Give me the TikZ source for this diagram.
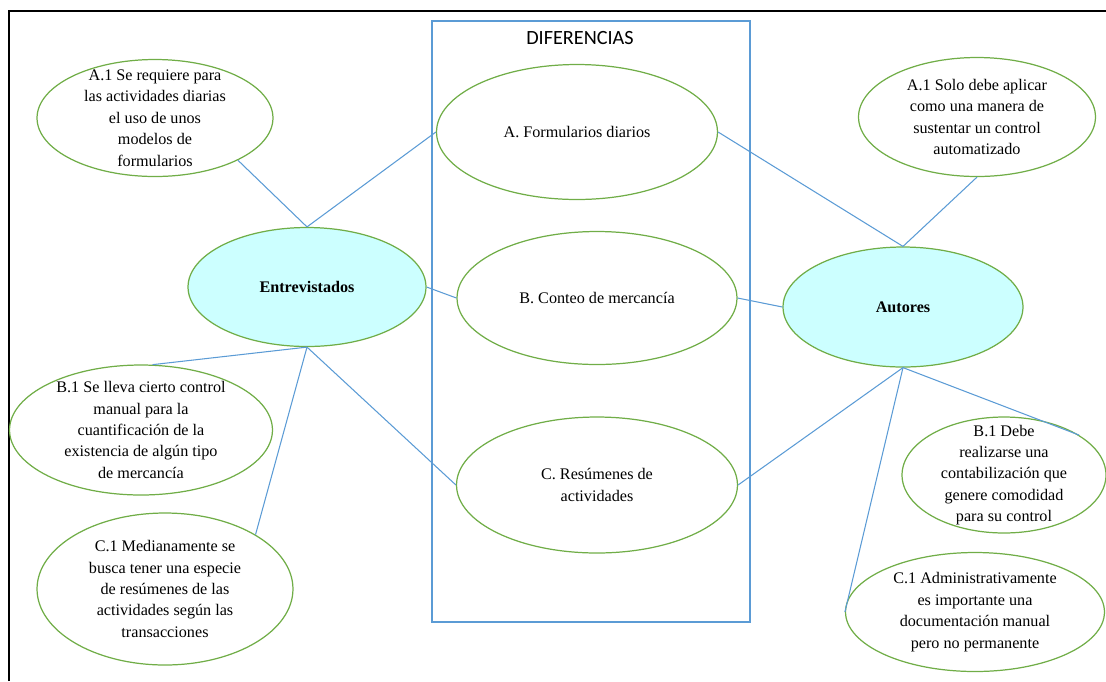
\documentclass[tikz,border=0pt]{standalone}
\usepackage{fontspec}
\setmainfont{Liberation Serif}
\newfontfamily\calibri{Carlito}
\usetikzlibrary{shapes.geometric}
\definecolor{ovalgreen}{RGB}{112,173,71}
\definecolor{linkblue}{RGB}{91,155,213}
\definecolor{actorcyan}{RGB}{204,255,255}

\begin{document}
\begin{tikzpicture}[
x=0.02cm, y=-0.02cm,
oval/.style={
	ellipse, draw=ovalgreen,
	line width=0.7pt, inner sep=0pt,
	font=\fontsize{9.2}{12.2}\selectfont
},
actor/.style={oval, fill=actorcyan, font=\fontsize{9.2}{12.2}\selectfont\bfseries},
txt/.style={align=center, inner sep=0pt, font=\fontsize{9.2}{12.2}\selectfont},
link/.style={draw=linkblue, line width=0.6pt}
]
\useasboundingbox (0,0) rectangle (1106,681);
\draw[line width=1.2pt] (9,681) -- (9,11) -- (1106,11);

% box of the differences
\draw[linkblue, line width=0.7pt] (432,21) rectangle (750,622);
\node[font=\calibri\fontsize{11.5}{14}\selectfont] (dif) at (580,38) {DIFERENCIAS};

\node[oval, minimum width=5.62cm, minimum height=2.7cm] (fA) at (577,132) {A. Formularios diarios};
\node[oval, minimum width=5.6cm, minimum height=2.66cm] (fB) at (597,298) {B. Conteo de mercanc\'ia};
\node[oval, minimum width=5.62cm, minimum height=2.72cm, align=center] (fC) at (597,485) {C. Res\'umenes de\\actividades};

\node[actor, minimum width=4.76cm, minimum height=2.38cm] (entr) at (307,287) {Entrevistados};
\node[actor, minimum width=4.8cm, minimum height=2.4cm] (aut) at (903,307) {Autores};

% notes of the interviewed
\node[oval, minimum width=4.72cm, minimum height=2.34cm] (a1L) at (155,118) {};
\node[txt] (a1Ltext) at (a1L) {A.1 Se requiere para\\las actividades diarias\\el uso de unos\\modelos de\\formularios};
\node[oval, minimum width=5.26cm, minimum height=2.6cm] (b1L) at (141,430) {};
\node[txt] (b1Ltext) at (b1L) {B.1 Se lleva cierto control\\manual para la\\cuantificaci\'on de la\\existencia de alg\'un tipo\\de mercanc\'ia};
\node[oval, minimum width=5.12cm, minimum height=3.04cm] (c1L) at (165,589) {};
\node[txt] (c1Ltext) at (c1L) {C.1 Medianamente se\\busca tener una especie\\de res\'umenes de las\\actividades seg\'un las\\transacciones};

% notes of the authors
\node[oval, minimum width=4.74cm, minimum height=2.38cm] (a1R) at (977,117) {};
\node[txt] (a1Rtext) at (a1R) {A.1 Solo debe aplicar\\como una manera de\\sustentar un control\\automatizado};
\node[oval, minimum width=4.08cm, minimum height=2.32cm] (b1R) at (1004,475) {};
\node[txt] (b1Rtext) at (b1R) {B.1 Debe\\realizarse una\\contabilizaci\'on que\\genere comodidad\\para su control};
\node[oval, minimum width=5.18cm, minimum height=2.38cm] (c1R) at (975,612) {};
\node[txt] (c1Rtext) at (c1R) {C.1 Administrativamente\\es importante una\\documentaci\'on manual\\pero no permanente};

\draw[link] (entr.north) -- (a1L.-27);
\draw[link] (entr.north) -- (fA.west);
\draw[link] (entr.east) -- (fB.west);
\draw[link] (entr.south) -- (b1L.80);
\draw[link] (entr.south) -- (c1L.31);
\draw[link] (entr.south) -- (fC.west);
\draw[link] (aut.north) -- (fA.east);
\draw[link] (aut.north) -- (a1R.south);
\draw[link] (aut.west) -- (fB.east);
\draw[link] (aut.south) -- (fC.east);
\draw[link] (aut.south) -- (b1R.28);
\draw[link] (aut.south) -- (c1R.west);
\end{tikzpicture}
\end{document}
